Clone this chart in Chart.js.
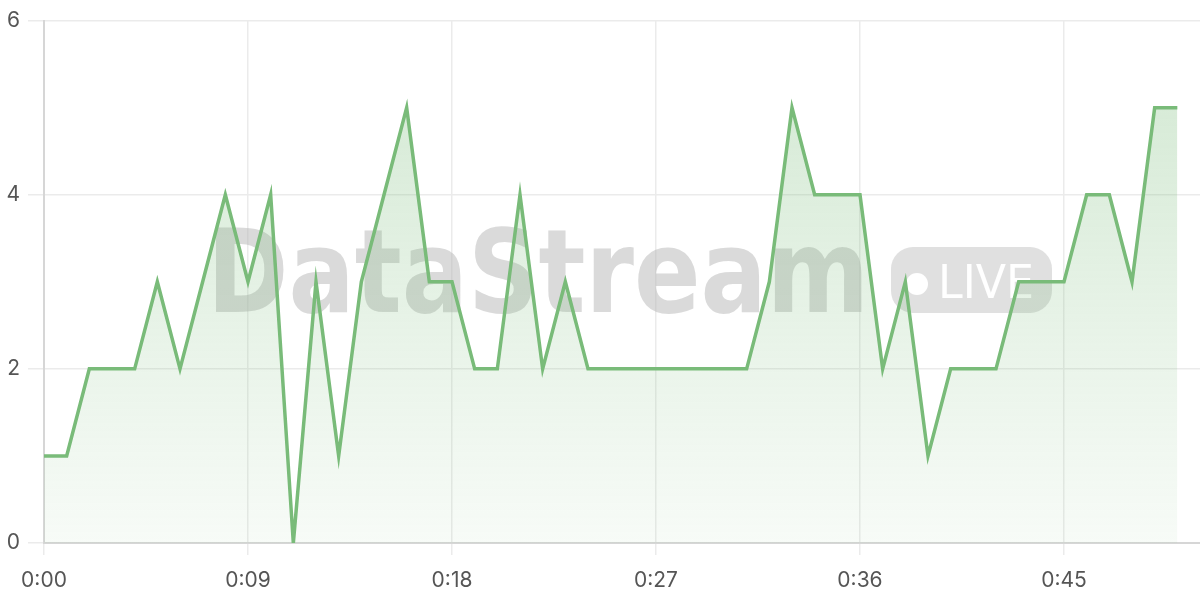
<!DOCTYPE html>
<html>
<head>
<meta charset="utf-8">
<script src="https://cdn.jsdelivr.net/npm/chart.js@4/dist/chart.umd.min.js"></script>
<style>
  html, body { margin: 0; padding: 0; background: #fff; }
  #wrap { width: 1200px; height: 600px; position: relative; }
</style>
</head>
<body>
<div id="wrap"><canvas id="chart" width="1200" height="600"></canvas></div>
<script>
// seconds since start
var seconds = [0, 1, 2, 3, 4, 5, 6, 7, 8, 9, 10, 11, 12, 13, 14, 15, 16, 17, 18, 19, 20,
               21, 22, 23, 24, 25, 26, 27, 28, 29, 30, 31, 32, 33, 34, 35, 36, 37, 38, 39, 40,
               41, 42, 43, 44, 45, 46, 47, 48, 49, 50];
var counts  = [1, 1, 2, 2, 2, 3, 2, 3, 4, 3, 4, 0, 3, 1, 3, 4, 5, 3, 3, 2, 2,
               4, 2, 3, 2, 2, 2, 2, 2, 2, 2, 2, 3, 5, 4, 4, 4, 2, 3, 1, 2,
               2, 2, 3, 3, 3, 4, 4, 3, 5, 5];
var x_ticks = [0, 9, 18, 27, 36, 45];
var y_ticks = [0, 2, 4, 6];
var watermark_text = 'DataStream';
var badge_text = 'LIVE';

var font_family = "Inter, 'Helvetica Neue', 'Liberation Sans', Arial, sans-serif";

function fmt_time(v) {
	var m = Math.floor(v / 60);
	var s = v % 60;
	return m + ':' + (s < 10 ? '0' + s : s);
}

var points = [];
for (var i in seconds) {
	points.push({ x: seconds[i], y: counts[i] });
}

// watermark drawn under the line and fill
var watermark = {
	id: 'watermark',
	beforeDatasetsDraw: function (chart) {
		var ctx = chart.ctx;
		ctx.save();

		// big word
		ctx.font = "bold 116px 'DejaVu Sans', sans-serif";
		ctx.textBaseline = 'alphabetic';
		ctx.textAlign = 'left';
		var w = ctx.measureText(watermark_text).width;
		var target = 662;
		ctx.translate(207, 312);
		ctx.scale(target / w, 1);
		ctx.fillStyle = 'rgba(185,185,185,0.52)';
		ctx.fillText(watermark_text, 0, 0);
		ctx.restore();

		// live badge
		ctx.save();
		var bx = 891, by = 247, bw = 161, bh = 66, r = 22;
		ctx.fillStyle = 'rgba(195,195,195,0.52)';
		ctx.beginPath();
		ctx.roundRect(bx, by, bw, bh, r);
		ctx.fill();
		ctx.fillStyle = '#fff';
		ctx.beginPath();
		ctx.arc(917, 284, 11, 0, Math.PI * 2);
		ctx.fill();
		ctx.font = "47px 'DejaVu Sans', sans-serif";
		ctx.textBaseline = 'alphabetic';
		var lw = ctx.measureText(badge_text).width;
		ctx.translate(938, 298);
		ctx.scale(96 / lw, 1);
		ctx.fillText(badge_text, 0, 0);
		ctx.restore();
	}
};

var ctx = document.getElementById('chart');

var myChart = new Chart(ctx, {
	type: 'line',
	data: {
		datasets: [{
			data: points,
			borderColor: '#79bb79',
			borderWidth: 3.5,
			borderCapStyle: 'butt',
			borderJoinStyle: 'miter',
			tension: 0,
			pointRadius: 0,
			fill: 'origin',
			backgroundColor: function (context) {
				var area = context.chart.chartArea;
				if (!area) {
					return 'rgba(121,187,121,0.2)';
				}
				var g = context.chart.ctx.createLinearGradient(0, area.top, 0, area.bottom);
				g.addColorStop(0, 'rgba(121,187,121,0.34)');
				g.addColorStop(1, 'rgba(121,187,121,0.06)');
				return g;
			}
		}]
	},
	options: {
		responsive: false,
		animation: false,
		layout: { padding: { top: 20, right: 0, left: 0, bottom: 0 } },
		plugins: {
			legend: { display: false },
			tooltip: { enabled: false }
		},
		scales: {
			x: {
				type: 'linear',
				min: 0,
				max: 51,
				afterFit: function (scale) { scale.height = 57; },
				afterBuildTicks: function (scale) {
					scale.ticks = x_ticks.map(function (v) { return { value: v }; });
				},
				grid: { color: '#ebebeb', lineWidth: 1.5, tickLength: 12 },
				border: { color: '#d6d6d6', width: 2 },
				ticks: {
					padding: 13,
					maxRotation: 0,
					color: '#555',
					font: { family: font_family, size: 21 },
					callback: function (v) { return fmt_time(v); }
				}
			},
			y: {
				min: 0,
				max: 6,
				afterFit: function (scale) { scale.width = 44; },
				afterBuildTicks: function (scale) {
					scale.ticks = y_ticks.map(function (v) { return { value: v }; });
				},
				grid: { color: '#ebebeb', lineWidth: 1.5, tickLength: 16 },
				border: { color: '#d6d6d6', width: 2 },
				ticks: {
					padding: 8,
					color: '#555',
					font: { family: font_family, size: 21 }
				}
			}
		}
	},
	plugins: [watermark]
});
</script>
</body>
</html>
